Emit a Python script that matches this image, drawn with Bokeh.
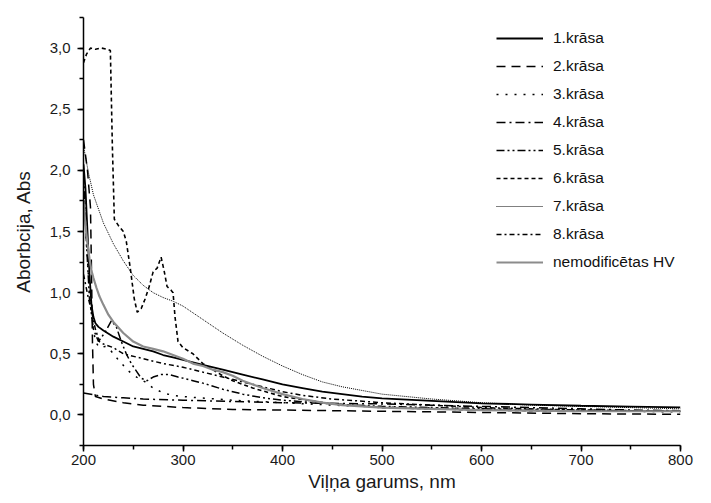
from bokeh.plotting import figure
from bokeh.models import SingleIntervalTicker, CustomJSTickFormatter, Range1d
from bokeh.embed import file_html
from bokeh.resources import INLINE

# ---- data ----
x1 = [200, 202, 204, 206, 208, 210, 212, 215, 220, 230, 240, 250, 260, 270, 280, 290, 300, 320, 340, 360, 380, 400, 420, 440, 460, 480, 500, 550, 600, 650, 700, 750, 800]
y1 = [2.05, 1.85, 1.5, 1.15, 0.9, 0.8, 0.75, 0.72, 0.69, 0.64, 0.6, 0.56, 0.54, 0.52, 0.49, 0.47, 0.45, 0.41, 0.37, 0.33, 0.29, 0.25, 0.22, 0.19, 0.17, 0.15, 0.135, 0.115, 0.095, 0.085, 0.075, 0.068, 0.062]

x2 = [200, 204, 207, 208, 209, 210, 212, 220, 240, 260, 280, 300, 350, 400, 450, 500, 600, 700, 800]
y2 = [2.25, 2.0, 1.7, 1.2, 0.6, 0.25, 0.15, 0.13, 0.1, 0.08, 0.07, 0.06, 0.045, 0.04, 0.035, 0.03, 0.02, 0.01, 0.005]

x3 = [200, 203, 206, 209, 212, 216, 222, 228, 235, 245, 255, 262, 270, 280, 290, 300, 350, 400, 450, 500, 600, 700, 800]
y3 = [1.9, 1.4, 1.0, 0.75, 0.6, 0.55, 0.56, 0.52, 0.45, 0.36, 0.3, 0.27, 0.22, 0.18, 0.16, 0.15, 0.12, 0.1, 0.08, 0.065, 0.05, 0.035, 0.025]

x4 = [200, 210, 220, 240, 260, 300, 350, 400, 450, 500, 550, 600, 650, 700, 750, 800]
y4 = [0.18, 0.165, 0.15, 0.14, 0.13, 0.12, 0.11, 0.1, 0.095, 0.09, 0.08, 0.07, 0.06, 0.05, 0.04, 0.035]

x5 = [200, 203, 206, 210, 215, 222, 228, 233, 238, 243, 248, 253, 258, 264, 270, 278, 286, 295, 310, 320, 340, 360, 380, 400, 450, 500, 600, 700, 800]
y5 = [2.0, 1.4, 0.95, 0.7, 0.6, 0.68, 0.77, 0.72, 0.6, 0.5, 0.42, 0.36, 0.3, 0.28, 0.31, 0.33, 0.33, 0.31, 0.28, 0.26, 0.21, 0.17, 0.14, 0.12, 0.09, 0.07, 0.05, 0.04, 0.03]

x6 = [200, 203, 207, 212, 218, 224, 227, 229, 231, 235, 240, 243, 247, 251, 254, 258, 262, 266, 270, 274, 278, 281, 284, 288, 290, 292, 295, 300, 310, 320, 330, 340, 350, 370, 400, 450, 500, 550, 600, 700, 800]
y6 = [2.88, 2.95, 3.0, 2.99, 3.0, 2.99, 2.98, 2.2, 1.6, 1.55, 1.5, 1.42, 1.2, 0.95, 0.84, 0.87, 0.95, 1.05, 1.17, 1.2, 1.29, 1.18, 1.05, 1.02, 1.0, 0.8, 0.6, 0.55, 0.5, 0.42, 0.37, 0.32, 0.28, 0.22, 0.15, 0.09, 0.06, 0.05, 0.04, 0.03, 0.03]

x7 = [200, 205, 210, 220, 230, 240, 250, 260, 270, 280, 290, 300, 320, 340, 360, 380, 400, 420, 440, 460, 480, 500, 550, 600, 650, 700, 750, 800]
y7 = [2.2, 1.98, 1.8, 1.57, 1.4, 1.26, 1.14, 1.06, 1.0, 0.96, 0.93, 0.89, 0.78, 0.67, 0.57, 0.48, 0.4, 0.33, 0.27, 0.23, 0.2, 0.17, 0.13, 0.1, 0.08, 0.07, 0.06, 0.05]

x8 = [200, 205, 208, 212, 216, 220, 230, 240, 260, 280, 300, 320, 340, 360, 380, 400, 420, 450, 500, 550, 600, 700, 800]
y8 = [1.15, 0.95, 0.85, 0.7, 0.6, 0.58, 0.55, 0.5, 0.46, 0.42, 0.39, 0.35, 0.31, 0.27, 0.23, 0.19, 0.16, 0.13, 0.1, 0.08, 0.06, 0.04, 0.03]

x9 = [200, 202, 204, 206, 208, 210, 213, 216, 220, 225, 230, 240, 250, 260, 270, 280, 290, 300, 310, 320, 330, 340, 350, 360, 380, 400, 420, 440, 460, 480, 500, 550, 600, 650, 700, 750, 800]
y9 = [1.75, 1.55, 1.4, 1.28, 1.18, 1.12, 1.04, 0.97, 0.9, 0.82, 0.76, 0.67, 0.6, 0.56, 0.54, 0.52, 0.49, 0.46, 0.42, 0.4, 0.37, 0.35, 0.32, 0.28, 0.22, 0.17, 0.13, 0.1, 0.08, 0.07, 0.06, 0.05, 0.04, 0.035, 0.03, 0.03, 0.03]

labels = ["1.krāsa", "2.krāsa", "3.krāsa", "4.krāsa", "5.krāsa",
          "6.krāsa", "7.krāsa", "8.krāsa", "nemodificētas HV"]

FONT = "Liberation Sans"

p = figure(width=703, height=495, output_backend="svg", toolbar_location=None,
           x_range=Range1d(200, 800), y_range=Range1d(-0.25, 3.25),
           min_border_left=83, min_border_right=23, min_border_top=17, min_border_bottom=50)
p.xgrid.visible = False
p.ygrid.visible = False
p.outline_line_color = None
p.background_fill_color = "white"
p.border_fill_color = "white"

styles = [
    dict(line_color="black", line_width=1.8, line_dash="solid"),
    dict(line_color="black", line_width=1.5, line_dash="9 6"),
    dict(line_color="black", line_width=1.5, line_dash="2 7"),
    dict(line_color="black", line_width=1.5, line_dash="9 4 2 4"),
    dict(line_color="black", line_width=1.5, line_dash="8 3 2 3 2 3"),
    dict(line_color="black", line_width=1.6, line_dash="4 3"),
    dict(line_color="black", line_width=1.0, line_dash="1 1"),
    dict(line_color="black", line_width=1.5, line_dash="5 3 2 3"),
    dict(line_color="#8c8c8c", line_width=2.2, line_dash="solid"),
]
series = [(x1, y1), (x2, y2), (x3, y3), (x4, y4), (x5, y5), (x6, y6), (x7, y7), (x8, y8), (x9, y9)]
for (xs, ys), lab, st in zip(series, labels, styles):
    p.line(xs, ys, legend_label=lab, **st)

for ax in (p.xaxis[0], p.yaxis[0]):
    ax.axis_line_width = 1.5
    ax.axis_line_color = "black"
    ax.major_tick_line_width = 1.5
    ax.minor_tick_line_width = 1.5
    ax.major_tick_line_color = "black"
    ax.minor_tick_line_color = "black"
    ax.major_tick_out = 6
    ax.major_tick_in = 0
    ax.minor_tick_out = 4
    ax.minor_tick_in = 0
    ax.major_label_text_font = FONT
    ax.major_label_text_font_size = "15px"
    ax.major_label_text_color = "#1a1a1a"
    ax.axis_label_text_font = FONT
    ax.axis_label_text_font_size = "19px"
    ax.axis_label_text_font_style = "normal"
    ax.axis_label_text_color = "#1a1a1a"

p.xaxis[0].ticker = SingleIntervalTicker(interval=100, num_minor_ticks=2)
p.yaxis[0].ticker = SingleIntervalTicker(interval=0.5, num_minor_ticks=2)
p.yaxis[0].formatter = CustomJSTickFormatter(code="return tick.toFixed(1).replace('.', ',');")
p.xaxis[0].axis_label = "Viļņa garums, nm"
p.yaxis[0].axis_label = "Aborbcija, Abs"
p.xaxis[0].major_label_standoff = 3
p.yaxis[0].major_label_standoff = 7
p.xaxis[0].axis_label_standoff = 3
p.yaxis[0].axis_label_standoff = 13

lg = p.legend[0]
lg.location = (413, 173)
lg.border_line_color = None
lg.background_fill_alpha = 0
lg.padding = 0
lg.margin = 0
lg.spacing = 8
lg.glyph_width = 47
lg.glyph_height = 20
lg.label_height = 20
lg.label_standoff = 10
lg.label_text_font = FONT
lg.label_text_font_size = "15.5px"
lg.label_text_color = "#111111"

open("out.html", "w").write(file_html(p, INLINE))
